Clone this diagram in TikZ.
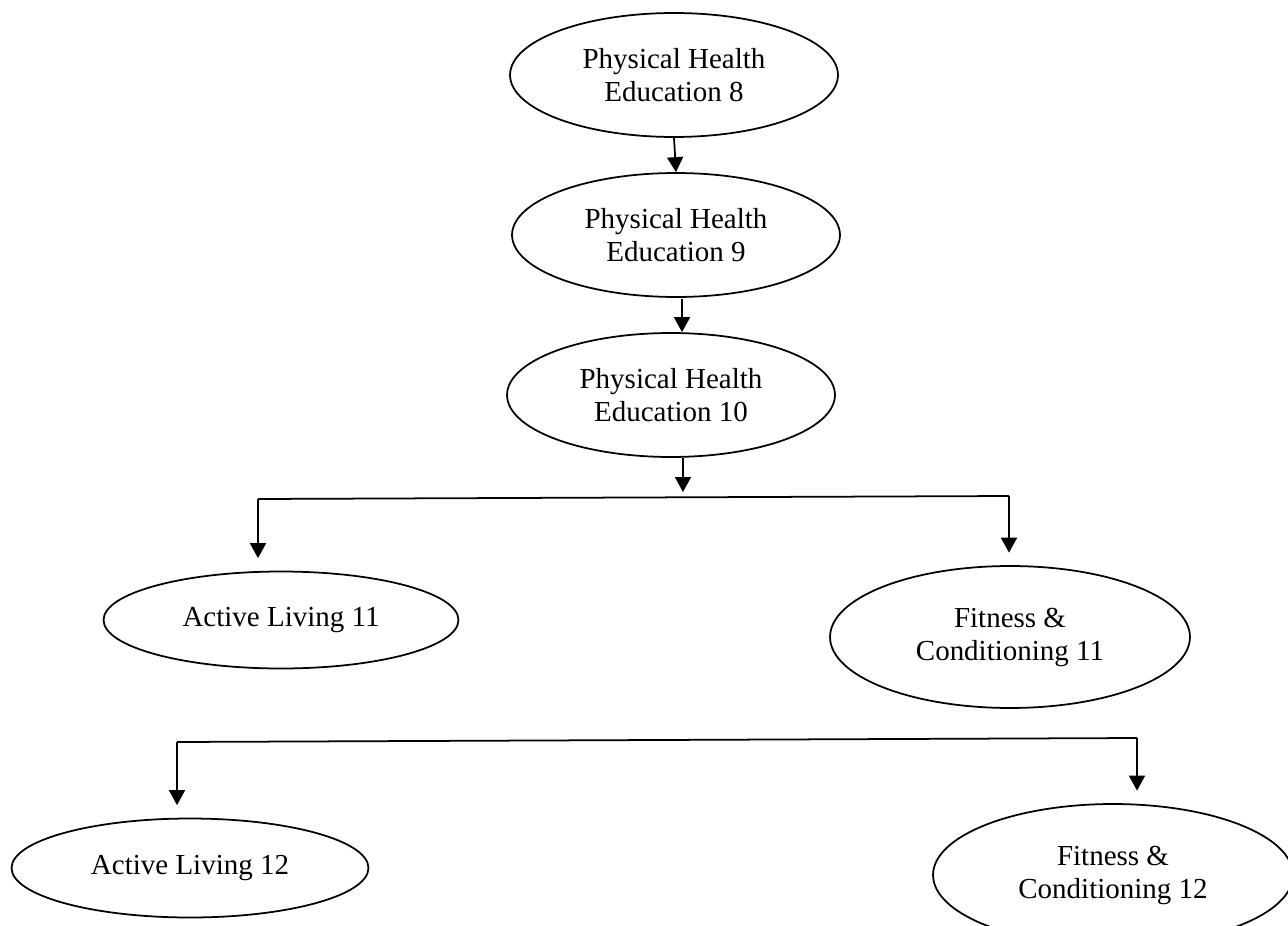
\documentclass[tikz,border=0pt]{standalone}
\usepackage{fontspec}
\setmainfont{Liberation Serif}
\usetikzlibrary{positioning}
\usetikzlibrary{shapes.geometric, arrows.meta}

\begin{document}
\begin{tikzpicture}[x=0.02cm, y=-0.02cm,
  course/.style={ellipse, draw, line width=1pt, align=center, inner sep=0pt,
    font=\fontsize{16.5}{18.8}\selectfont},
  flow/.style={line width=1pt, -{Triangle[length=0.3cm, width=0.32cm]}},
  drop/.style={flow, shorten >=0.25cm}]

  \clip (0,0) rectangle (1288,926); % Marco de la figura

  % Cursos obligatorios
  \node[course, minimum width=6.56cm, minimum height=2.48cm] (phe8) at (674,75) {Physical Health\\Education 8};
  \node[course, minimum width=6.56cm, minimum height=2.48cm] (phe9) at (676,235) {Physical Health\\Education 9};
  \node[course, minimum width=6.56cm, minimum height=2.48cm] (phe10) at (671,395) {Physical Health\\Education 10};

  % Cursos optativos
  \node[course, minimum width=7.1cm, minimum height=1.94cm] (al11) at (281,620) {Active Living 11};
  \node[course, minimum width=7.2cm, minimum height=2.84cm] (fc11) at (1010,637) {Fitness \&\\Conditioning 11};
  \node[course, minimum width=7.14cm, minimum height=1.98cm] (al12) at (190,868) {Active Living 12};
  \node[course, minimum width=7.2cm, minimum height=2.84cm] (fc12) at (1113,875) {Fitness \&\\Conditioning 12};

  \coordinate (link9) at (682,299);
  \coordinate (fork) at (683,492);
  \coordinate (bar1l) at (258,499);
  \coordinate (bar1r) at (1009,496);
  \coordinate (bar2l) at (177,742);
  \coordinate (bar2r) at (1137,738);

  \draw[flow] (phe8.south) -- (phe9.north);
  \draw[flow] (link9) -- (link9 |- phe10.north);
  \draw[flow] (fork |- phe10.south) -- (fork);

  \draw[line width=1pt] (bar1l) -- (bar1r); % Bifurcación 11
  \draw[drop] (bar1l) -- (bar1l |- al11.north);
  \draw[drop] (bar1r) -- (bar1r |- fc11.north);

  \draw[line width=1pt] (bar2l) -- (bar2r); % Bifurcación 12
  \draw[drop] (bar2l) -- (bar2l |- al12.north);
  \draw[drop] (bar2r) -- (bar2r |- fc12.north);

\end{tikzpicture}
\end{document}
